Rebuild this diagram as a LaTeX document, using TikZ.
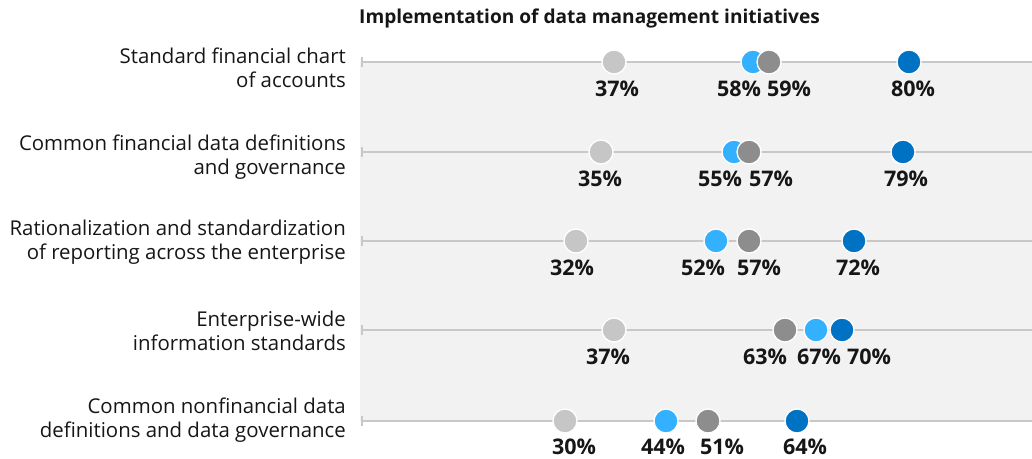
\documentclass[tikz,border=0pt]{standalone}
\usepackage{fontspec}
\setmainfont{Open Sans}
\definecolor{cLight}{HTML}{C6C6C6}
\definecolor{cLBlue}{HTML}{33B1FF}
\definecolor{cGray}{HTML}{8D8D8D}
\definecolor{cDBlue}{HTML}{0072C3}
\definecolor{cBg}{HTML}{F2F2F2}
\definecolor{cLine}{HTML}{C8C8C8}
\definecolor{cText}{HTML}{161616}
\tikzset{
  dotmark/.style={circle, minimum size=24pt, inner sep=0pt, draw=white, line width=1.3pt},
  pctlabel/.style={font=\fontsize{21.5}{21.5}\selectfont\bfseries, text=cText, inner sep=0pt, anchor=center},
  rowlabel/.style={font=\fontsize{20.4}{24}\selectfont, text=cText, align=right, anchor=east, inner sep=0pt},
  rowline/.style={draw=cLine, line width=2.2pt},
  tickmark/.style={draw=cLine, line width=1.5pt},
}
\begin{document}
\begin{tikzpicture}[x=1pt,y=-1pt]
\useasboundingbox (0,0) rectangle (1032,458);
\fill[cBg] (360,62) rectangle (1032,421);
\node[font=\fontsize{19.1}{21}\selectfont\bfseries, text=cText, anchor=west, inner sep=0pt] (title) at (359,18) {Implementation of data management initiatives};

% row labels
\node[rowlabel] (l1) at (346,68) {Standard financial chart\\of accounts};
\node[rowlabel] (l2) at (346,157) {Common financial data definitions\\and governance};
\node[rowlabel] (l3) at (346,242) {Rationalization and standardization\\of reporting across the enterprise};
\node[rowlabel] (l4) at (346,331) {Enterprise-wide\\information standards};
\node[rowlabel] (l5) at (346,420) {Common nonfinancial data\\definitions and data governance};

% row lines
\foreach \i/\y in {1/62,2/152,3/241,4/330,5/421}{
  \coordinate (s\i) at (362,\y);
  \coordinate (e\i) at (1032,\y);
  \draw[rowline] (s\i) -- (e\i);
  \draw[tickmark] (362,\y-5) -- (362,\y+5);
}

% row 1
\node[dotmark, fill=cLight] (a1) at (614,62) {};
\node[dotmark, fill=cLBlue] (b1) at (753,62) {};
\node[dotmark, fill=cGray] (c1) at (769,62) {};
\node[dotmark, fill=cDBlue] (d1) at (909,62) {};
\node[pctlabel] (ta1) at (617,89) {37\%};
\node[pctlabel] (tb1) at (739,89) {58\%};
\node[pctlabel] (tc1) at (789,89) {59\%};
\node[pctlabel] (td1) at (913,89) {80\%};
% row 2
\node[dotmark, fill=cLight] (a2) at (601,152) {};
\node[dotmark, fill=cLBlue] (b2) at (734,152) {};
\node[dotmark, fill=cGray] (c2) at (749,152) {};
\node[dotmark, fill=cDBlue] (d2) at (903,152) {};
\node[pctlabel] (ta2) at (600,179) {35\%};
\node[pctlabel] (tb2) at (720,179) {55\%};
\node[pctlabel] (tc2) at (771,179) {57\%};
\node[pctlabel] (td2) at (906,179) {79\%};
% row 3
\node[dotmark, fill=cLight] (a3) at (576,241) {};
\node[dotmark, fill=cLBlue] (b3) at (716,241) {};
\node[dotmark, fill=cGray] (c3) at (749,241) {};
\node[dotmark, fill=cDBlue] (d3) at (854,241) {};
\node[pctlabel] (ta3) at (572,268) {32\%};
\node[pctlabel] (tb3) at (703,268) {52\%};
\node[pctlabel] (tc3) at (759,268) {57\%};
\node[pctlabel] (td3) at (858,268) {72\%};
% row 4
\node[dotmark, fill=cLight] (a4) at (614,330) {};
\node[dotmark, fill=cGray] (c4) at (785,330) {};
\node[dotmark, fill=cLBlue] (b4) at (816,330) {};
\node[dotmark, fill=cDBlue] (d4) at (842,330) {};
\node[pctlabel] (ta4) at (608,357) {37\%};
\node[pctlabel] (tc4) at (765,357) {63\%};
\node[pctlabel] (tb4) at (819,357) {67\%};
\node[pctlabel] (td4) at (869,357) {70\%};
% row 5
\node[dotmark, fill=cLight] (a5) at (565,421) {};
\node[dotmark, fill=cLBlue] (b5) at (666,421) {};
\node[dotmark, fill=cGray] (c5) at (708,421) {};
\node[dotmark, fill=cDBlue] (d5) at (797,421) {};
\node[pctlabel] (ta5) at (574,447) {30\%};
\node[pctlabel] (tb5) at (663,447) {44\%};
\node[pctlabel] (tc5) at (722,447) {51\%};
\node[pctlabel] (td5) at (805,447) {64\%};
\end{tikzpicture}
\end{document}
